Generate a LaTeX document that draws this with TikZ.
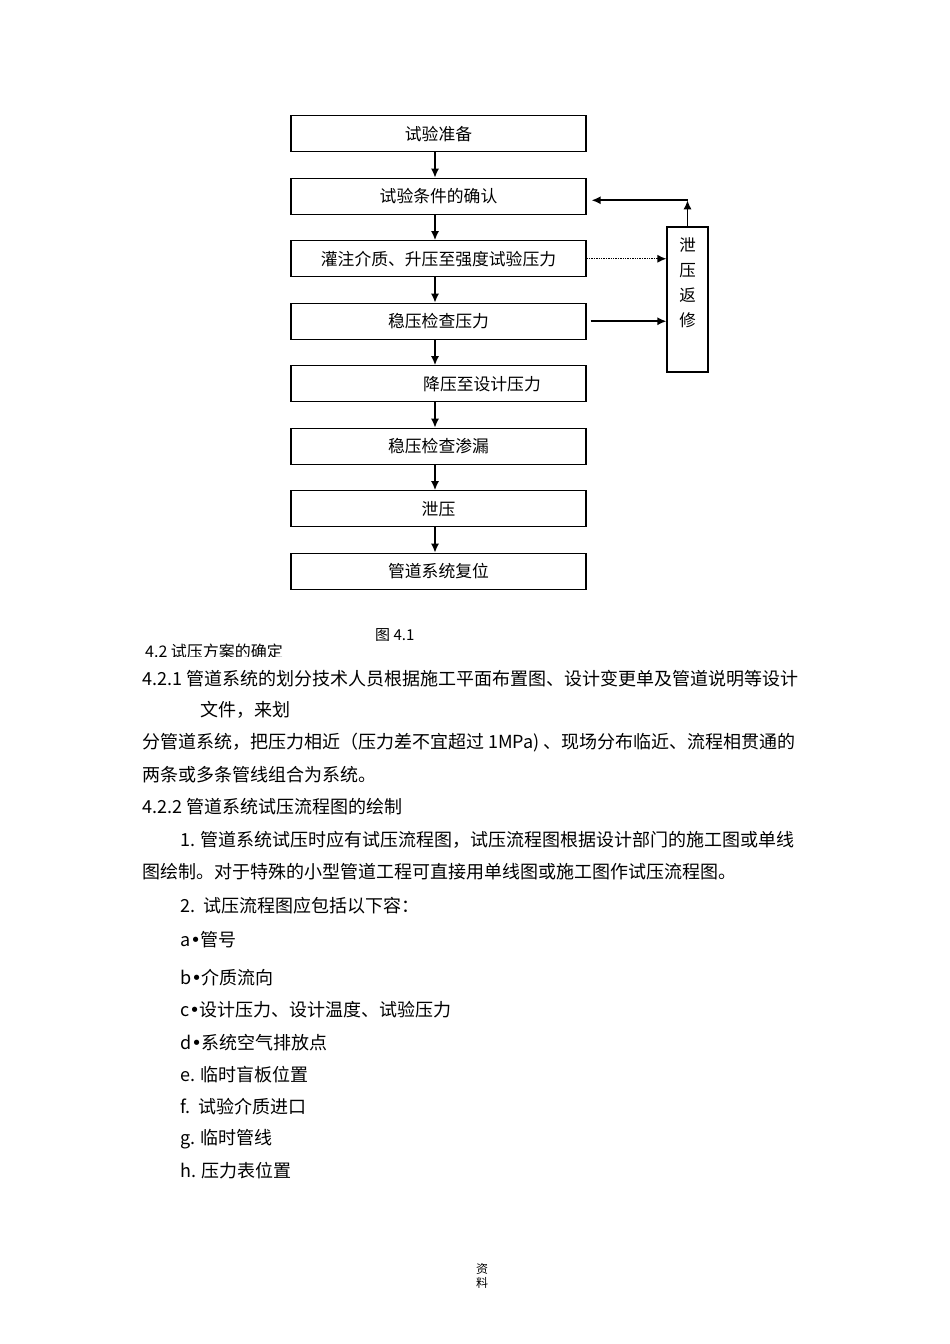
\documentclass[tikz,border=0pt]{standalone}
\usepackage{fontspec}
\setmainfont{Noto Sans CJK SC}
\newfontfamily\dejavu{DejaVu Sans}
\usetikzlibrary{matrix,positioning,arrows.meta}
\newcommand\boxfont{\fontsize{16.8}{18}\selectfont}
\newcommand\bodyfont{\fontsize{18}{20}\selectfont}
\newcommand\itembullet{{\dejavu •}}

\begin{document}
\begin{tikzpicture}[
x=1pt,y=-1pt,
stepbox/.style={
  draw,
  line width=1.1pt,
  minimum width=295pt,
  minimum height=36pt,
  inner sep=0pt,
  font=\boxfont
  },
stepchart/.style={
  matrix of nodes,
  nodes={stepbox},
  row sep=25.4pt,
  inner sep=0pt
  },
sidebox/.style={
  draw,
  line width=1.1pt,
  minimum width=41pt,
  minimum height=145pt,
  inner sep=0pt
  },
bodytext/.style={
  anchor=west,
  inner sep=0pt,
  font=\bodyfont
  },
>={Latex[length=9pt,width=8pt]}
]
\useasboundingbox (0,0) rectangle (950,1344);

\matrix[stepchart, anchor=north] (steps) at (438.5,115)
{
试验准备 \\
试验条件的确认 \\
灌注介质、升压至强度试验压力 \\
稳压检查压力 \\
\hspace*{87pt}降压至设计压力 \\
稳压检查渗漏 \\
泄压 \\
管道系统复位 \\
};
\foreach \ri [count=\rn from 2] in {1,...,7}
  \draw[->, line width=1.6pt] ([xshift=-3.5pt]steps-\ri-1.south) -- ([xshift=-3.5pt]steps-\rn-1.north);

\node[sidebox] (repair) at (687.5,299.5) {};
\node[font=\fontsize{16.5}{25}\selectfont, align=center, inner sep=0pt, below=11pt of repair.north] (repairtext) {泄\\压\\返\\修};

\coordinate (entry) at ([yshift=-4pt]steps-2-1.east);
\coordinate (turn) at (repair.north |- entry);
\draw[->, line width=1.6pt] (repair.north) -- (turn);
\draw[->, line width=1.6pt, shorten >=5pt] (turn) -- (entry);
\draw[->, densely dotted, line width=1.4pt] (steps-3-1.east) -- (steps-3-1.east -| repair.west);
\draw[->, line width=1.6pt, shorten <=4pt] (steps-4-1.east) -- (steps-4-1.east -| repair.west);

% caption and heading, cut off as in the page
\begin{scope}
\clip (300,620) rectangle (500,640);
\node[font=\fontsize{15}{17}\selectfont, anchor=west, inner sep=0pt] (caption) at (375,635) {图 4.1};
\end{scope}
\begin{scope}
\clip (100,641) rectangle (400,656);
\node[font=\fontsize{16}{18}\selectfont, anchor=west, inner sep=0pt] (heading) at (145,651) {4.2 试压方案的确定};
\end{scope}

\foreach \tx/\ty/\tt [count=\li] in {
  142/679/4.2.1 管道系统的划分技术人员根据施工平面布置图、设计变更单及管道说明等设计,
  200/710/文件，来划,
  142/743/分管道系统，把压力相近（压力差不宜超过 1MPa) 、现场分布临近、流程相贯通的,
  142/775/两条或多条管线组合为系统。,
  142/807/4.2.2 管道系统试压流程图的绘制,
  180/840/1. 管道系统试压时应有试压流程图，试压流程图根据设计部门的施工图或单线,
  142/872/图绘制。对于特殊的小型管道工程可直接用单线图或施工图作试压流程图。,
  180/906/2.\ \ 试压流程图应包括以下容：,
  180/940/a\itembullet 管号,
  180/978/b\itembullet 介质流向,
  180/1010/c\itembullet 设计压力、设计温度、试验压力,
  180/1043/d\itembullet 系统空气排放点,
  180/1075/e. 临时盲板位置,
  180/1107/f.\ \ 试验介质进口,
  180/1139/g. 临时管线,
  180/1171/h. 压力表位置}
  \node[bodytext] (line-\li) at (\tx,\ty) {\tt};

% page footer
\node[font=\fontsize{12}{14}\selectfont, align=center, inner sep=0pt] (footer) at (482,1276) {资\\料};

\end{tikzpicture}
\end{document}
